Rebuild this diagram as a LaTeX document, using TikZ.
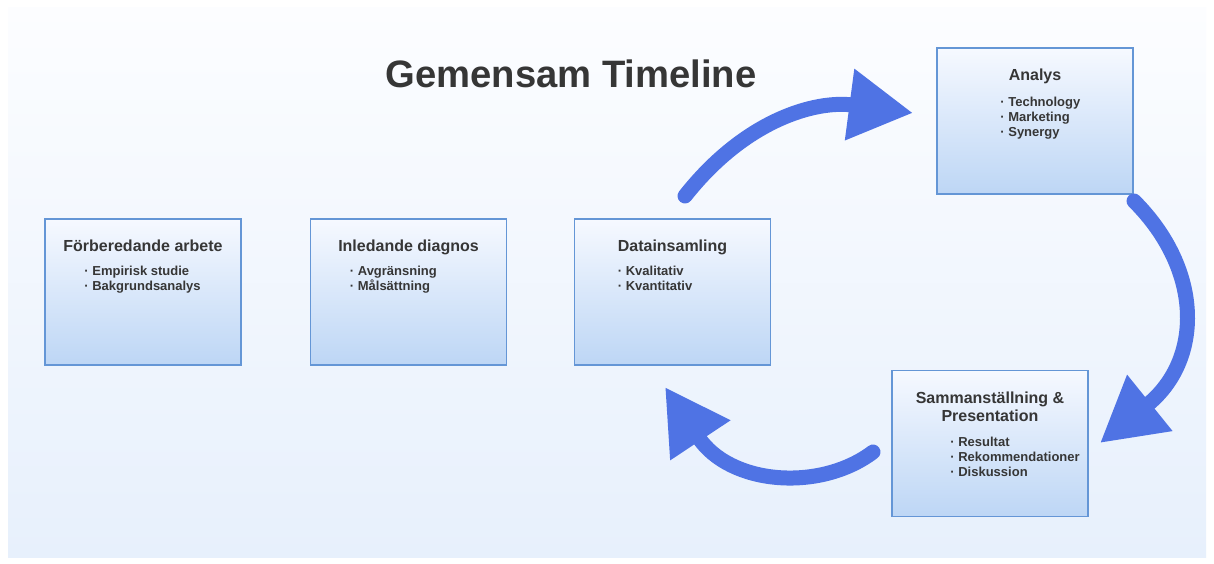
\documentclass[tikz,border=0pt]{standalone}
\usepackage{fontspec}
\setmainfont{Liberation Sans}
\usetikzlibrary{arrows.meta}
\definecolor{txt}{HTML}{363636}
\definecolor{arrowblue}{HTML}{4F73E4}
\definecolor{boxline}{HTML}{6496D6}
\definecolor{boxtop}{HTML}{F6F9FF}
\definecolor{boxbot}{HTML}{BDD6F5}
\definecolor{bgtop}{HTML}{FCFDFF}
\definecolor{bgbot}{HTML}{E7F0FC}
\tikzset{
  stagebox/.style={draw=boxline, line width=1.6pt, top color=boxtop, bottom color=boxbot,
    minimum width=196pt, minimum height=146pt, inner sep=0pt},
  boxtitle/.style={font=\bfseries\fontsize{16}{18}\selectfont, text=txt, align=center, inner sep=0pt, anchor=base},
  boxitems/.style={font=\bfseries\fontsize{13}{15}\selectfont, text=txt, align=left, inner sep=0pt, anchor=north west},
  bigarrow/.style={draw=arrowblue, line width=15pt, line cap=round,
    -{Triangle[length=64pt,width=68pt]}},
}
\begin{document}
\begin{tikzpicture}[x=1pt,y=-1pt]
\useasboundingbox (0,0) rectangle (1214,564);
\fill[white] (0,0) rectangle (1214,564);
\shade[top color=bgtop, bottom color=bgbot] (8,8) rectangle (1206,557);

\node[font=\bfseries\fontsize{38.2}{41}\selectfont, text=txt, anchor=base] (title) at (571,88) {Gemensam Timeline};

% boxes
\node[stagebox] (b1) at (143,292) {};
\node[stagebox] (b2) at (408.5,292) {};
\node[stagebox] (b3) at (672.5,292) {};
\node[stagebox] (b4) at (1035,121) {};
\node[stagebox] (b5) at (990,443.5) {};

\node[boxtitle] (t1) at ([yshift=-33pt]b1.north) {Förberedande arbete};
\node[boxitems] (i1) at ([xshift=40pt,yshift=-48pt]b1.north west) {· Empirisk studie\\· Bakgrundsanalys};

\node[boxtitle] (t2) at ([yshift=-33pt]b2.north) {Inledande diagnos};
\node[boxitems] (i2) at ([xshift=40pt,yshift=-48pt]b2.north west) {· Avgränsning\\· Målsättning};

\node[boxtitle] (t3) at ([yshift=-33pt]b3.north) {Datainsamling};
\node[boxitems] (i3) at ([xshift=44pt,yshift=-48pt]b3.north west) {· Kvalitativ\\· Kvantitativ};

\node[boxtitle] (t4) at ([yshift=-33pt]b4.north) {Analys};
\node[boxitems] (i4) at ([xshift=64pt,yshift=-50pt]b4.north west) {· Technology\\· Marketing\\· Synergy};

\node[boxtitle] (t5) at ([yshift=-52pt]b5.north) {Sammanställning \&\\Presentation};
\node[boxitems] (i5) at ([xshift=59pt,yshift=-67pt]b5.north west) {· Resultat\\· Rekommendationer\\· Diskussion};

% arrows
\coordinate (a1s) at (685,196);
\coordinate (a1e) at (913,113);
\coordinate (a2s) at (1134,201);
\coordinate (a2e) at (1100,443);
\coordinate (a3s) at (873,452);
\coordinate (a3e) at (665,387);
\draw[bigarrow] (a1s) .. controls (745,120) and (815,100) .. (a1e);
\draw[bigarrow] (a2s) .. controls (1203,270) and (1203,360) .. (a2e);
\draw[bigarrow] (a3s) .. controls (820,492) and (730,485) .. (a3e);
\end{tikzpicture}
\end{document}
